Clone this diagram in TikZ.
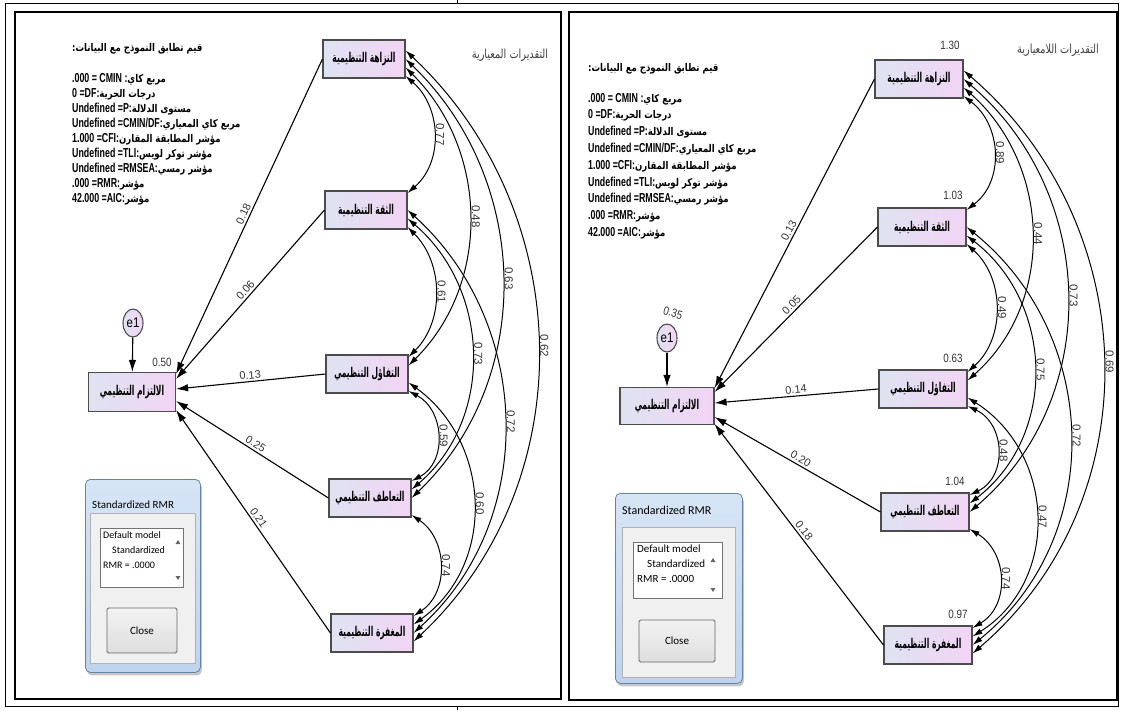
\documentclass[tikz,border=0pt]{standalone}
\usepackage{fontspec}
\setmainfont{Liberation Sans}
\newfontfamily\arabicfont[Script=Arabic,FakeStretch=0.78]{DejaVu Sans}
\newfontfamily\boxarfont[Script=Arabic,FakeStretch=0.56]{DejaVu Sans}
\newfontfamily\statarfont[Script=Arabic,FakeStretch=0.8,Scale=0.82]{DejaVu Sans}
\newfontfamily\narrowfont[FakeStretch=0.68]{Liberation Sans}
\newfontfamily\labelfont[FakeStretch=0.82]{Liberation Sans}
\newfontfamily\uifont{Carlito}
\TeXXeTstate=1
\usetikzlibrary{arrows.meta,shapes.geometric,shadows}
\definecolor{boxleft}{RGB}{222,227,241}
\definecolor{boxright}{RGB}{242,212,244}
\definecolor{wintop}{RGB}{214,229,246}
\definecolor{winbottom}{RGB}{190,211,237}
\definecolor{winedge}{RGB}{104,130,166}
\definecolor{panelgray}{RGB}{240,240,240}
\newcommand{\artext}[1]{{\arabicfont\beginR #1\endR}}
\newcommand{\boxtext}[1]{{\boxarfont\beginR #1\endR}}
\newcommand{\stattext}[1]{{\statarfont\beginR #1\endR}}
\tikzset{
 frame/.style={line width=2.6pt},
 latent/.style={draw=black!70,line width=1.1pt,left color=boxleft,right color=boxright,minimum width=82pt,minimum height=38pt,inner sep=0,font=\bfseries\fontsize{13.5}{14}\selectfont},
 errorterm/.style={ellipse,draw=black!70,line width=1.1pt,left color=boxleft,right color=boxright,minimum width=20pt,minimum height=28pt,inner sep=0,font=\labelfont\fontsize{14}{14}\selectfont},
 regline/.style={line width=1.1pt,-{Latex[length=12pt,width=7.5pt]}},
 covarc/.style={line width=1pt,{Latex[length=10pt,width=6pt]}-{Latex[length=10pt,width=6pt]}},
 coeff/.style={font=\labelfont\fontsize{12}{13}\selectfont,text=black!80,inner sep=2pt},
 regcoeff/.style={font=\fontsize{11}{12}\selectfont,text=black!80,inner sep=2pt,midway,sloped,above},
 covlabel/.style={coeff,font=\fontsize{11.5}{13}\selectfont,rotate=-90,anchor=south},
 fitstats/.style={align=left,anchor=north west,inner sep=0,font=\narrowfont\bfseries\fontsize{13}{15}\selectfont},
 heading/.style={font=\fontsize{12.5}{13}\selectfont,text=black!75,inner sep=0},
 window/.style={draw=winedge,line width=.8pt,rounded corners=5pt,top color=wintop,bottom color=winbottom,drop shadow={shadow xshift=1.5pt,shadow yshift=-3pt,opacity=.45},anchor=north west,inner sep=0},
 winpanel/.style={draw=black!30,fill=panelgray,anchor=north west,inner sep=0},
 textbox/.style={draw=black!55,fill=white,anchor=north west,inner sep=0},
 closebtn/.style={draw=black!60,line width=.9pt,rounded corners=1.5pt,top color=white!95!black,bottom color=black!13,inner sep=0,font=\uifont\fontsize{11}{12}\selectfont},
 uitext/.style={font=\uifont\fontsize{10}{15}\selectfont,inner sep=0}
}

\begin{document}
\begin{tikzpicture}[x=1pt,y=-1pt]
\useasboundingbox (0,0) rectangle (1121,710);
% frames
\draw[line width=1pt] (5,3) rectangle (1118,706);
\draw[line width=1pt] (457,0) -- (457,3) (457,706) -- (457,710);
\draw[frame] (15,12) rectangle (561,699);
\draw[frame] (569,12) rectangle (1117,700);

%% left panel: standardized estimates
\node[heading] (lhead) at (510,55) {\artext{التقديرات المعيارية}};
\node[fitstats] (lfit) at (72,43) {\stattext{قيم تطابق النموذج مع البيانات:}\\[16pt]
.000 = CMIN :\stattext{مربع كاي}\\
0 =DF:\stattext{درجات الحرية}\\
Undefined =P:\stattext{مستوى الدلالة}\\
Undefined =CMIN/DF:\stattext{مربع كاي المعياري}\\
1.000 =CFI:\stattext{مؤشر المطابقة المقارن}\\
Undefined =TLI:\stattext{مؤشر توكر لويس}\\
Undefined =RMSEA:\stattext{مؤشر رمسي}\\
.000 =RMR:\stattext{مؤشر}\\
42.000 =AIC:\stattext{مؤشر}};

\node[latent] (lint) at (364,59) {\boxtext{النزاهة التنظيمية}};
\node[latent] (ltrust) at (366,210) {\boxtext{الثقة التنظيمية}};
\node[latent] (lopt) at (367,374) {\boxtext{التفاؤل التنظيمي}};
\node[latent] (lemp) at (370,498) {\boxtext{التعاطف التنظيمي}};
\node[latent] (lforg) at (372,633) {\boxtext{المغفرة التنظيمية}};
\node[latent,minimum width=87pt,minimum height=39pt] (lcomm) at (132,392) {\boxtext{الالتزام التنظيمي}};
\node[errorterm] (le1) at (133,323) {e1};
\node[coeff] (lr2) at (162,362) {0.50};

\draw[regline] (le1) -- (lcomm);
\draw[regline] (lint.west) -- ([yshift=18pt]lcomm.east) node[regcoeff] {0.18};
\draw[regline] (ltrust.west) -- ([yshift=13pt]lcomm.east) node[regcoeff] {0.06};
\draw[regline] (lopt.west) -- ([yshift=3pt]lcomm.east) node[regcoeff] {0.13};
\draw[regline] (lemp.west) -- ([yshift=-9pt]lcomm.east) node[regcoeff] {0.25};
\draw[regline] (lforg.west) -- ([yshift=-18pt]lcomm.east) node[regcoeff] {0.21};

\draw[covarc] ([yshift=-17pt]lint.east) .. controls +(36,31) and +(36,-31) .. ([yshift=17pt]ltrust.east) node[covlabel,pos=.5] {0.77};
\draw[covarc] ([yshift=-17pt]ltrust.east) .. controls +(36,36) and +(36,-36) .. ([yshift=17pt]lopt.east) node[covlabel,pos=.5] {0.61};
\draw[covarc] ([yshift=-17pt]lopt.east) .. controls +(36,19) and +(36,-19) .. ([yshift=17pt]lemp.east) node[covlabel,pos=.5] {0.59};
\draw[covarc] ([yshift=-17pt]lemp.east) .. controls +(36,24) and +(36,-24) .. ([yshift=17pt]lforg.east) node[covlabel,pos=.5] {0.74};
\draw[covarc] ([yshift=-8.5pt]lint.east) .. controls +(83,82) and +(83,-82) .. ([yshift=8.5pt]lopt.east) node[covlabel,pos=.5] {0.48};
\draw[covarc] ([yshift=-8.5pt]ltrust.east) .. controls +(83,71) and +(83,-71) .. ([yshift=8.5pt]lemp.east) node[covlabel,pos=.5] {0.73};
\draw[covarc] ([yshift=-8.5pt]lopt.east) .. controls +(83,60) and +(83,-60) .. ([yshift=8.5pt]lforg.east) node[covlabel,pos=.5] {0.60};
\draw[covarc] (lint.east) .. controls +(125,120) and +(125,-120) .. (lemp.east) node[covlabel,pos=.5] {0.63};
\draw[covarc] (ltrust.east) .. controls +(125,113) and +(125,-113) .. (lforg.east) node[covlabel,pos=.5] {0.72};
\draw[covarc] ([yshift=8.5pt]lint.east) .. controls +(171,160) and +(171,-160) .. ([yshift=-8.5pt]lforg.east) node[covlabel,pos=.5] {0.62};

% left RMR window
\node[window,minimum width=115pt,minimum height=193pt] (lwin) at (85,479) {};
\node[uitext,font=\uifont\fontsize{11}{12}\selectfont,anchor=west] (lwintitle) at (92,505) {Standardized RMR};
\node[winpanel,minimum width=105pt,minimum height=150pt] (lpanel) at (90,513) {};
\node[textbox,minimum width=83pt,minimum height=59pt] (lbox) at (100,528) {};
\node[uitext,anchor=north west,align=left] (lrmr) at (103,531) {Default model\\\hspace*{9pt}Standardized\\RMR = .0000};
\fill[black!60] (178,540) -- (175.5,544) -- (180.5,544) -- cycle;
\fill[black!60] (178,580) -- (175.5,576) -- (180.5,576) -- cycle;
\node[closebtn,minimum width=70pt,minimum height=45pt] (lclose) at (142,630.5) {Close};

%% right panel: unstandardized estimates
\node[heading] (rhead) at (1058,50) {\artext{التقديرات اللامعيارية}};
\node[fitstats,font=\narrowfont\bfseries\fontsize{13}{16.8}\selectfont] (rfit) at (588,63) {\stattext{قيم تطابق النموذج مع البيانات:}\\[14pt]
.000 = CMIN :\stattext{مربع كاي}\\
0 =DF:\stattext{درجات الحرية}\\
Undefined =P:\stattext{مستوى الدلالة}\\
Undefined =CMIN/DF:\stattext{مربع كاي المعياري}\\
1.000 =CFI:\stattext{مؤشر المطابقة المقارن}\\
Undefined =TLI:\stattext{مؤشر توكر لويس}\\
Undefined =RMSEA:\stattext{مؤشر رمسي}\\
.000 =RMR:\stattext{مؤشر}\\
42.000 =AIC:\stattext{مؤشر}};

\node[latent,minimum width=88pt] (rint) at (919,79) {\boxtext{النزاهة التنظيمية}};
\node[latent,minimum width=88pt] (rtrust) at (922,227) {\boxtext{الثقة التنظيمية}};
\node[latent,minimum width=88pt] (ropt) at (923,389) {\boxtext{التفاؤل التنظيمي}};
\node[latent,minimum width=88pt] (remp) at (925,512) {\boxtext{التعاطف التنظيمي}};
\node[latent,minimum width=88pt] (rforg) at (928,645) {\boxtext{المغفرة التنظيمية}};
\node[latent,minimum width=94pt,minimum height=37pt] (rcomm) at (667,406) {\boxtext{الالتزام التنظيمي}};
\node[errorterm] (re1) at (667,338) {e1};
\node[coeff,rotate=-15] (rv0) at (673,313) {0.35};
\node[coeff] (rv1) at (950,45) {1.30};
\node[coeff] (rv2) at (953,195) {1.03};
\node[coeff] (rv3) at (953,358) {0.63};
\node[coeff] (rv4) at (955,481) {1.04};
\node[coeff] (rv5) at (958,614) {0.97};

\draw[regline] (re1) -- (rcomm);
\draw[regline] (rint.west) -- ([yshift=18pt]rcomm.east) node[regcoeff] {0.13};
\draw[regline] (rtrust.west) -- ([yshift=14pt]rcomm.east) node[regcoeff] {0.05};
\draw[regline] (ropt.west) -- ([yshift=3pt]rcomm.east) node[regcoeff] {0.14};
\draw[regline] (remp.west) -- ([yshift=-11pt]rcomm.east) node[regcoeff] {0.20};
\draw[regline] (rforg.west) -- ([yshift=-18pt]rcomm.east) node[regcoeff] {0.18};

\draw[covarc] ([yshift=-17pt]rint.east) .. controls +(38,29) and +(38,-29) .. ([yshift=17pt]rtrust.east) node[covlabel,pos=.5] {0.89};
\draw[covarc] ([yshift=-17pt]rtrust.east) .. controls +(38,34) and +(38,-34) .. ([yshift=17pt]ropt.east) node[covlabel,pos=.5] {0.49};
\draw[covarc] ([yshift=-17pt]ropt.east) .. controls +(38,18) and +(38,-18) .. ([yshift=17pt]remp.east) node[covlabel,pos=.5] {0.48};
\draw[covarc] ([yshift=-17pt]remp.east) .. controls +(38,23) and +(38,-23) .. ([yshift=17pt]rforg.east) node[covlabel,pos=.5] {0.74};
\draw[covarc] ([yshift=-8.5pt]rint.east) .. controls +(88,78) and +(88,-78) .. ([yshift=8.5pt]ropt.east) node[covlabel,pos=.5] {0.44};
\draw[covarc] ([yshift=-8.5pt]rtrust.east) .. controls +(88,68) and +(88,-68) .. ([yshift=8.5pt]remp.east) node[covlabel,pos=.5] {0.75};
\draw[covarc] ([yshift=-8.5pt]ropt.east) .. controls +(88,56) and +(88,-56) .. ([yshift=8.5pt]rforg.east) node[covlabel,pos=.5] {0.47};
\draw[covarc] (rint.east) .. controls +(134,114) and +(134,-114) .. (remp.east) node[covlabel,pos=.5] {0.73};
\draw[covarc] (rtrust.east) .. controls +(134,108) and +(134,-108) .. (rforg.east) node[covlabel,pos=.5] {0.72};
\draw[covarc] ([yshift=8.5pt]rint.east) .. controls +(180,154) and +(180,-154) .. ([yshift=-8.5pt]rforg.east) node[covlabel,pos=.5] {0.69};

% right RMR window
\node[window,minimum width=127pt,minimum height=190pt] (rwin) at (615,493) {};
\node[uitext,font=\uifont\fontsize{12}{13}\selectfont,anchor=west] (rwintitle) at (622,510) {Standardized RMR};
\node[winpanel,minimum width=113pt,minimum height=150pt] (rpanel) at (622,527) {};
\node[textbox,minimum width=89pt,minimum height=56pt] (rbox) at (633,542) {};
\node[uitext,font=\uifont\fontsize{11}{15}\selectfont,anchor=north west,align=left] (rrmr) at (637,545) {Default model\\\hspace*{10pt}Standardized\\RMR = .0000};
\fill[black!60] (713,558) -- (710.5,562) -- (715.5,562) -- cycle;
\fill[black!60] (713,592) -- (710.5,588) -- (715.5,588) -- cycle;
\node[closebtn,minimum width=76pt,minimum height=42pt] (rclose) at (677,641) {Close};
\end{tikzpicture}
\end{document}
